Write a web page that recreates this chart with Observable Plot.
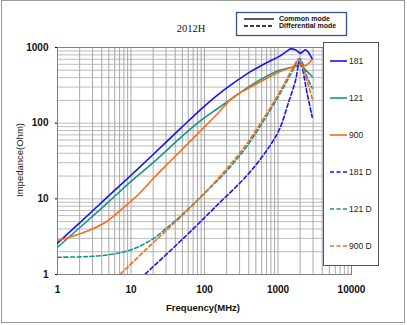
<!DOCTYPE html>
<html><head><meta charset="utf-8">
<script src="https://cdn.jsdelivr.net/npm/d3@7"></script>
<script src="https://cdn.jsdelivr.net/npm/@observablehq/plot@0.6"></script>
<style>body{margin:0;background:#fff}svg{display:block}</style>
</head><body><div id="chart"></div>
<script>
const title = "2012H";
const xTicks = [1, 10, 100, 1000, 10000];
const yTicks = [1, 10, 100, 1000];
const seriesNames = ["181", "121", "900", "181 D", "121 D", "900 D"];
const seriesColors = ["#1414f5", "#14968b", "#fb6b1c", "#1414f5", "#14968b", "#fb6b1c"];
const seriesDashed = [false, false, false, true, true, true];

const f181 = [1, 2, 5, 10, 20, 50, 100, 150, 250, 423, 700, 1026, 1250, 1480, 1750, 2025, 2370, 2920];
const z181 = [2.6, 4.8, 11, 20.5, 38.5, 90, 168, 235, 340, 479, 630, 758, 860, 958, 925, 838, 930, 707];
const f121 = [1, 2, 5, 10, 21.5, 52, 100, 149, 250, 423, 1026, 1730, 2000, 2200, 2500, 2920];
const z121 = [2.29, 4.15, 9.2, 17, 32, 70, 118, 155, 220, 314, 495, 560, 590, 545, 480, 410];
const f900 = [1, 1.58, 2.67, 4.5, 7.6, 12.8, 21.5, 34.5, 88, 149, 226, 290, 340, 423, 494, 1016, 1479, 2025, 2367, 2920];
const z900 = [2.81, 3.18, 3.81, 4.9, 7.4, 11.6, 19.9, 31.6, 78.7, 132, 205, 245, 268, 300, 325, 470, 542, 607, 576, 692];
const f181D = [15.7, 52, 149, 361, 641, 1026, 1403, 1730, 1981, 2500, 2920];
const z181D = [1.02, 3.03, 8.28, 19.4, 38.5, 79.8, 193, 365, 671, 244, 120];
const f121D = [1, 2, 3, 5, 7.6, 10, 12.8, 17, 21.5, 29.5, 40, 88, 193, 361, 615, 1016, 1574, 1963, 2500, 2920];
const z121D = [1.69, 1.71, 1.74, 1.82, 1.97, 2.12, 2.33, 2.7, 3.1, 4.0, 5.1, 10.5, 22.5, 46.7, 101.6, 227, 488, 716, 404, 290];
const f900D = [7.2, 18.4, 29.5, 70.8, 193, 361, 615, 1016, 1574, 1901, 2500, 2920];
const z900D = [1.02, 2.43, 3.74, 8.4, 24, 50.6, 110, 242, 526, 692, 355, 210];

const freqs = [f181, f121, f900, f181D, f121D, f900D];
const imps = [z181, z121, z900, z181D, z121D, z900D];

const rows = [];
seriesNames.forEach((name, i) => {
  freqs[i].forEach((f, j) => rows.push({series: name, f, z: imps[i][j]}));
});

const xGrid = [];
for (let d = 1; d < 10000; d *= 10) for (let k = 1; k <= 9; k++) xGrid.push(d * k);
xGrid.push(10000);
const yGrid = [];
for (let d = 1; d < 1000; d *= 10) for (let k = 1; k <= 9; k++) yGrid.push(d * k);
yGrid.push(1000);

const font = "'Liberation Sans', Arial, sans-serif";

const lineMarks = seriesNames.map((name, i) =>
  Plot.line(rows.filter(r => r.series === name), {
    x: "f", y: "z", stroke: seriesColors[i], strokeWidth: 1.6,
    strokeDasharray: seriesDashed[i] ? "4,2.5" : null,
    curve: "catmull-rom", clip: true
  })
);

const chart = Plot.plot({
  width: 407, height: 325,
  marginLeft: 57, marginRight: 56, marginTop: 47, marginBottom: 51,
  style: {fontFamily: font, background: "#fff"},
  x: {type: "log", domain: [1, 10000]},
  y: {type: "log", domain: [1, 1000]},
  marks: [
    Plot.ruleY(yGrid, {stroke: "#bcbcbc", strokeWidth: 1}),
    Plot.ruleX(xGrid, {stroke: "#a8a8a8", strokeWidth: 1}),
    Plot.frame({stroke: "#808080"}),
    Plot.axisX({ticks: xTicks, tickFormat: d => String(d), tickSize: 0, tickPadding: 11,
      fontSize: 10, fontWeight: "bold", fill: "#111", label: null}),
    Plot.axisY({ticks: yTicks, tickFormat: d => String(d), tickSize: 2, tickPadding: 7,
      fontSize: 10, fontWeight: "bold", fill: "#111", label: null}),
    ...lineMarks
  ]
});

const svg = d3.select(chart);
// outer border
svg.append("rect").attr("x", 1.5).attr("y", 0.5).attr("width", 403).attr("height", 322)
  .attr("fill", "none").attr("stroke", "#9a9a9a");
// axis titles
svg.append("text").attr("x", 203).attr("y", 311).attr("text-anchor", "middle")
  .attr("font-size", 9.5).attr("font-weight", "bold").attr("fill", "#111").attr("font-family", font)
  .text("Frequency(MHz)");
svg.append("text").attr("transform", "translate(23,160) rotate(-90)").attr("text-anchor", "middle")
  .attr("font-size", 9.5).attr("fill", "#222").attr("font-family", font)
  .text("Impedance(Ohm)");
// title
svg.append("text").attr("x", 191).attr("y", 32).attr("text-anchor", "middle")
  .attr("font-size", 10.5).attr("fill", "#111").attr("font-family", "'Liberation Serif', 'Times New Roman', serif")
  .text(title);
// top legend
svg.append("rect").attr("x", 236.5).attr("y", 12.5).attr("width", 110).attr("height", 23)
  .attr("fill", "#fff").attr("stroke", "#2f5597").attr("stroke-width", 1.3);
[["Common mode", null, 19], ["Differential mode", "4,2", 26]].forEach(([t, dash, y]) => {
  const ln = svg.append("line").attr("x1", 244).attr("x2", 274).attr("y1", y).attr("y2", y)
    .attr("stroke", "#000").attr("stroke-width", 1.3);
  if (dash) ln.attr("stroke-dasharray", dash);
  svg.append("text").attr("x", 279).attr("y", y).attr("dy", "0.35em").attr("text-anchor", "start")
    .attr("font-size", 7).attr("font-weight", "bold").attr("fill", "#111").attr("font-family", font).text(t);
});
// right legend
svg.append("rect").attr("x", 323.5).attr("y", 42.5).attr("width", 55).attr("height", 223)
  .attr("fill", "#fff").attr("stroke", "#555");
seriesNames.forEach((name, i) => {
  const y = 61 + 37 * i;
  const ln = svg.append("line").attr("x1", 330).attr("x2", 347).attr("y1", y).attr("y2", y)
    .attr("stroke", seriesColors[i]).attr("stroke-width", 1.6);
  if (seriesDashed[i]) ln.attr("stroke-dasharray", "4,2.5");
  svg.append("text").attr("x", 349).attr("y", y).attr("dy", "0.35em").attr("text-anchor", "start")
    .attr("font-size", 8.5).attr("fill", "#222").attr("font-family", font).text(name);
});

document.getElementById("chart").appendChild(chart);
</script></body></html>
